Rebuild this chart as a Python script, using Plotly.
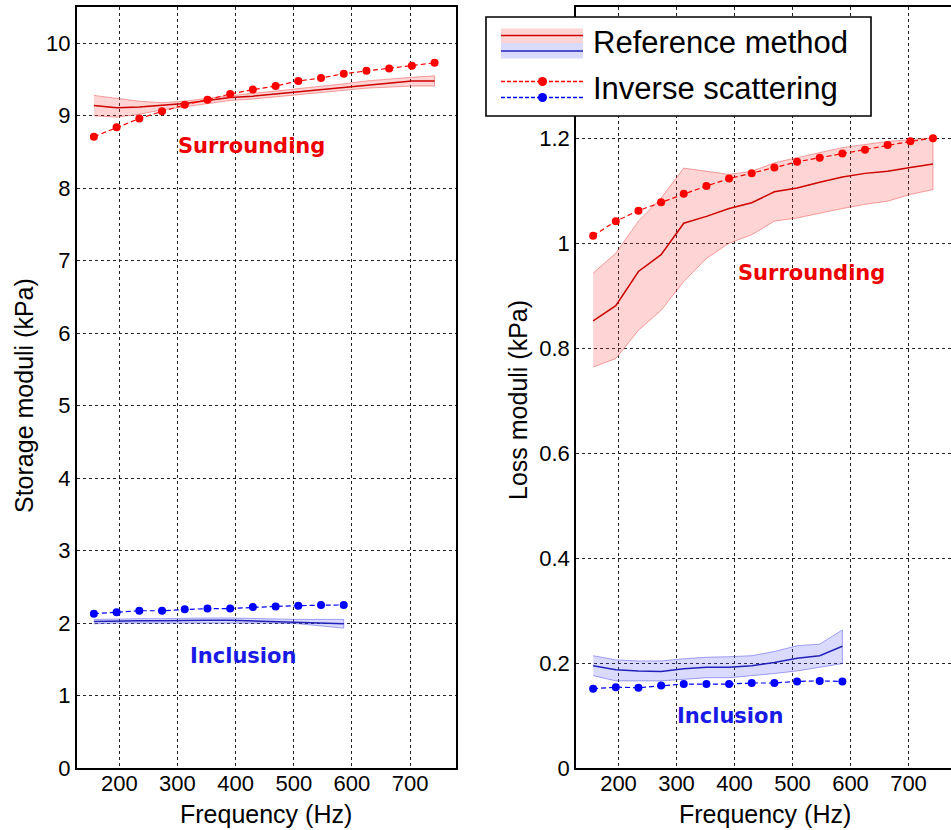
import plotly.graph_objects as go

W, H = 951, 830

# ---------------- data ----------------
freq_surr = [156.25, 195.3125, 234.375, 273.4375, 312.5, 351.5625, 390.625, 429.6875,
             468.75, 507.8125, 546.875, 585.9375, 625.0, 664.0625, 703.125, 742.1875]
freq_incl = [156.25, 195.3125, 234.375, 273.4375, 312.5, 351.5625, 390.625, 429.6875,
             468.75, 507.8125, 546.875, 585.9375]

# Storage moduli (kPa)
stor_surr_inv = [8.71, 8.84, 8.96, 9.06, 9.15, 9.22, 9.30, 9.36, 9.41, 9.48, 9.52, 9.58, 9.62, 9.65, 9.69, 9.73]
stor_surr_ref = [9.14, 9.11, 9.12, 9.14, 9.17, 9.21, 9.25, 9.27, 9.30, 9.33, 9.37, 9.40, 9.43, 9.46, 9.48, 9.48]
stor_surr_hi = [9.28, 9.24, 9.20, 9.18, 9.20, 9.24, 9.28, 9.31, 9.34, 9.37, 9.41, 9.44, 9.48, 9.51, 9.53, 9.55]
stor_surr_lo = [9.00, 8.98, 9.02, 9.08, 9.13, 9.17, 9.21, 9.23, 9.25, 9.28, 9.32, 9.35, 9.38, 9.40, 9.41, 9.41]

stor_incl_inv = [2.13, 2.15, 2.17, 2.17, 2.19, 2.20, 2.20, 2.22, 2.23, 2.24, 2.25, 2.25]
stor_incl_ref = [2.02, 2.03, 2.03, 2.03, 2.04, 2.04, 2.04, 2.03, 2.03, 2.02, 2.01, 1.99]
stor_incl_hi = [2.05, 2.06, 2.06, 2.06, 2.07, 2.07, 2.07, 2.06, 2.06, 2.05, 2.05, 2.05]
stor_incl_lo = [1.99, 2.00, 2.00, 2.00, 2.01, 2.01, 2.01, 2.00, 2.00, 1.99, 1.96, 1.93]

# Loss moduli (kPa)
loss_surr_inv = [1.014, 1.042, 1.062, 1.078, 1.094, 1.109, 1.123, 1.133, 1.144, 1.155, 1.163, 1.171, 1.178, 1.187, 1.194, 1.200]
loss_surr_ref = [0.852, 0.881, 0.946, 0.978, 1.038, 1.051, 1.066, 1.077, 1.098, 1.105, 1.116, 1.126, 1.133, 1.137, 1.144, 1.151]
loss_surr_hi = [0.943, 0.981, 1.042, 1.086, 1.143, 1.137, 1.131, 1.137, 1.153, 1.163, 1.172, 1.182, 1.188, 1.194, 1.197, 1.201]
loss_surr_lo = [0.764, 0.780, 0.834, 0.872, 0.927, 0.971, 1.000, 1.016, 1.042, 1.048, 1.057, 1.066, 1.074, 1.080, 1.093, 1.102]

loss_incl_inv = [0.151, 0.154, 0.153, 0.157, 0.160, 0.160, 0.160, 0.162, 0.162, 0.165, 0.166, 0.165]
loss_incl_ref = [0.195, 0.187, 0.185, 0.184, 0.189, 0.192, 0.192, 0.195, 0.201, 0.209, 0.214, 0.232]
loss_incl_hi = [0.214, 0.206, 0.204, 0.204, 0.208, 0.211, 0.212, 0.214, 0.222, 0.233, 0.236, 0.263]
loss_incl_lo = [0.176, 0.166, 0.166, 0.166, 0.169, 0.172, 0.172, 0.176, 0.180, 0.185, 0.192, 0.199]

x_ticks = [200, 300, 400, 500, 600, 700]
stor_ticks = [0, 1, 2, 3, 4, 5, 6, 7, 8, 9, 10]
loss_ticks = [0, 0.2, 0.4, 0.6, 0.8, 1.0, 1.2]

legend_labels = ["Reference method", "Inverse scattering"]
region_labels = ["Surrounding", "Inclusion"]

# ---------------- style ----------------
RED_FILL = "rgba(255,40,40,0.20)"
RED_EDGE = "rgba(235,90,90,0.55)"
RED_LINE = "#cc0000"
RED_DOT = "#ff0000"
BLUE_FILL = "rgba(70,70,255,0.20)"
BLUE_EDGE = "rgba(90,90,230,0.55)"
BLUE_LINE = "#2222b8"
BLUE_DOT = "#0000ff"
TICKFONT = dict(family="Liberation Sans, Arial, sans-serif", size=22, color="black")
TITLEFONT = dict(family="Liberation Sans, Arial, sans-serif", size=25, color="black")
DASH = "5px,3px"

fig = go.Figure()


def add_group(x, inv, ref, hi, lo, fill, edge, line, dot, xa, ya):
    fig.add_trace(go.Scatter(x=list(x) + list(x)[::-1], y=list(hi) + list(lo)[::-1],
                             fill="toself", fillcolor=fill, mode="lines",
                             line=dict(color=edge, width=1), hoverinfo="skip",
                             showlegend=False, xaxis=xa, yaxis=ya))
    fig.add_trace(go.Scatter(x=x, y=ref, mode="lines", line=dict(color=line, width=1.5),
                             showlegend=False, xaxis=xa, yaxis=ya))
    fig.add_trace(go.Scatter(x=x, y=inv, mode="lines+markers",
                             line=dict(color=dot, width=1.2, dash=DASH),
                             marker=dict(color=dot, size=8), showlegend=False,
                             xaxis=xa, yaxis=ya))


add_group(freq_surr, stor_surr_inv, stor_surr_ref, stor_surr_hi, stor_surr_lo,
          RED_FILL, RED_EDGE, RED_LINE, RED_DOT, "x", "y")
add_group(freq_incl, stor_incl_inv, stor_incl_ref, stor_incl_hi, stor_incl_lo,
          BLUE_FILL, BLUE_EDGE, BLUE_LINE, BLUE_DOT, "x", "y")
add_group(freq_surr, loss_surr_inv, loss_surr_ref, loss_surr_hi, loss_surr_lo,
          RED_FILL, RED_EDGE, RED_LINE, RED_DOT, "x2", "y2")
add_group(freq_incl, loss_incl_inv, loss_incl_ref, loss_incl_hi, loss_incl_lo,
          BLUE_FILL, BLUE_EDGE, BLUE_LINE, BLUE_DOT, "x2", "y2")


def px(x):
    return x / W


def py(y):
    return 1 - y / H


axis_common = dict(showline=True, linecolor="black", linewidth=1.6, showgrid=True,
                   gridcolor="#222", griddash="dot", gridwidth=1, zeroline=False,
                   ticks="", tickfont=TICKFONT, automargin=False, fixedrange=True)

y_dom = [py(768), py(7)]
fig.update_layout(
    width=W, height=H, margin=dict(l=0, r=0, t=0, b=0),
    paper_bgcolor="white", plot_bgcolor="white", showlegend=False,
    xaxis=dict(domain=[px(76.7), px(456)], range=[126.7, 779], tickvals=x_ticks,
               mirror=True, anchor="y", ticklabelstandoff=-5, **axis_common),
    yaxis=dict(domain=y_dom, range=[0, 10.5], tickvals=stor_ticks, mirror=True,
               anchor="x", **axis_common),
    xaxis2=dict(domain=[px(576), 1.0], range=[126.7, 126.7 + 375 / 0.58], tickvals=x_ticks,
                mirror=True, anchor="y2", ticklabelstandoff=-5, **axis_common),
    yaxis2=dict(domain=y_dom, range=[0, 1.45], tickvals=loss_ticks, mirror=False,
                anchor="x2", **axis_common),
)

# region labels
lab_font_r = dict(family="DejaVu Sans, Verdana, sans-serif", size=21, color="#ee0000")
lab_font_b = dict(family="DejaVu Sans, Verdana, sans-serif", size=21, color="#1a1ae6")
fig.add_annotation(x=428, y=8.58, xref="x", yref="y", text="<b>%s</b>" % region_labels[0],
                   showarrow=False, font=lab_font_r)
fig.add_annotation(x=413, y=1.54, xref="x", yref="y", text="<b>%s</b>" % region_labels[1],
                   showarrow=False, font=lab_font_b)
fig.add_annotation(x=532, y=0.943, xref="x2", yref="y2", text="<b>%s</b>" % region_labels[0],
                   showarrow=False, font=lab_font_r)
fig.add_annotation(x=392, y=0.100, xref="x2", yref="y2", text="<b>%s</b>" % region_labels[1],
                   showarrow=False, font=lab_font_b)


# axis titles
def title(x, y, text, angle=0):
    fig.add_annotation(x=px(x), y=py(y), xref="paper", yref="paper", text=text,
                       textangle=angle, showarrow=False, font=TITLEFONT,
                       xanchor="center", yanchor="middle")


title(24, 396, "Storage moduli (kPa)", -90)
title(518, 400, "Loss moduli (kPa)", -90)
title(266, 814, "Frequency (Hz)")
title(765, 814, "Frequency (Hz)")


# manual legend
def rect(x0, y0, x1, y1, **kw):
    fig.add_shape(type="rect", xref="paper", yref="paper", x0=px(x0), x1=px(x1),
                  y0=py(y1), y1=py(y0), layer="above", **kw)


def hline(x0, x1, y, color, width, dash="solid"):
    fig.add_shape(type="line", xref="paper", yref="paper", x0=px(x0), x1=px(x1),
                  y0=py(y), y1=py(y), layer="above",
                  line=dict(color=color, width=width, dash=dash))


def dot(cx, cy, r, color):
    fig.add_shape(type="circle", xref="paper", yref="paper", x0=px(cx - r), x1=px(cx + r),
                  y0=py(cy + r), y1=py(cy - r), layer="above", fillcolor=color,
                  line=dict(color=color, width=0))


rect(486, 17, 871, 116, fillcolor="white", line=dict(color="black", width=1.6))
rect(501, 28.5, 583, 43, fillcolor=RED_FILL, line=dict(width=0))
hline(501, 583, 35.5, RED_LINE, 1.5)
rect(501, 43, 583, 58.5, fillcolor=BLUE_FILL, line=dict(width=0))
hline(501, 583, 51, BLUE_LINE, 1.5)
hline(501, 583, 81.5, RED_DOT, 1.4, "4px,2px")
dot(542.5, 81.5, 4.5, RED_DOT)
hline(501, 583, 97.5, BLUE_DOT, 1.4, "4px,2px")
dot(542.5, 97.5, 4.5, BLUE_DOT)

LEGFONT = dict(family="Liberation Sans, Arial, sans-serif", size=31, color="black")
fig.add_annotation(x=px(591), y=py(42), xref="paper", yref="paper", text=legend_labels[0],
                   showarrow=False, xanchor="left", yanchor="middle", font=LEGFONT)
fig.add_annotation(x=px(591), y=py(89), xref="paper", yref="paper", text=legend_labels[1],
                   showarrow=False, xanchor="left", yanchor="middle", font=LEGFONT)

fig.write_html("out.html")
